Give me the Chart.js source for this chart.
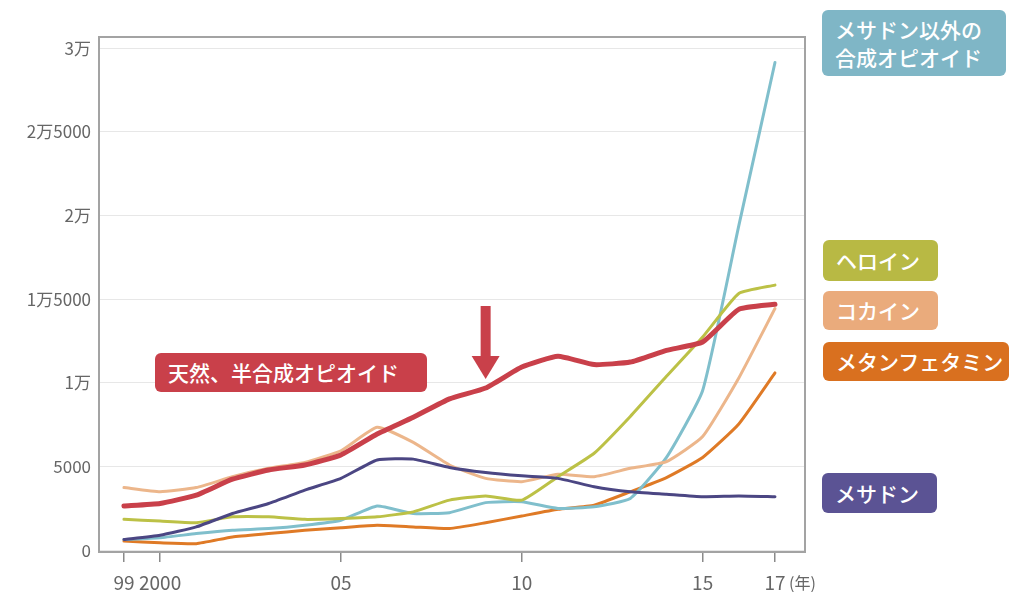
<!DOCTYPE html>
<html>
<head>
<meta charset="utf-8">
<script src="https://cdn.jsdelivr.net/npm/chart.js@4/dist/chart.umd.min.js"></script>
<style>
  body { margin: 0; background: #fff; }
  #wrap { position: relative; width: 1010px; height: 592px; font-family: "Noto Sans CJK JP", sans-serif; }
  .tag { position: absolute; color: #fff; font-size: 21px; font-weight: 500; line-height: 28px; border-radius: 6px; padding: 0 13px; box-sizing: border-box; white-space: nowrap; }
  #nen { position: absolute; left: 789px; top: 570px; font-size: 16px; color: #666; }
</style>
</head>
<body>
<div id="wrap">
  <canvas id="chart" width="1010" height="592"></canvas>
  <div class="tag" style="left:822px;top:10px;width:184px;height:66px;padding-top:5px;background:#7fb6c6;">メサドン以外の<br>合成オピオイド</div>
  <div class="tag" style="left:823px;top:240px;width:115px;height:41px;padding-top:6px;background:#b8b944;">ヘロイン</div>
  <div class="tag" style="left:823px;top:291px;width:115px;height:39px;padding-top:5px;background:#eaab7c;">コカイン</div>
  <div class="tag" style="left:823px;top:342px;width:186px;height:39px;padding-top:5px;background:#d9701f;">メタンフェタミン</div>
  <div class="tag" style="left:822px;top:473px;width:115px;height:40px;padding-top:6px;background:#5b5394;">メサドン</div>
  <div class="tag" style="left:155px;top:353px;width:272px;height:39px;padding-top:5px;background:#c9404a;">天然、半合成オピオイド</div>
  <div id="nen">(年)</div>
</div>
<script>
// years and overdose deaths
const years = [1999, 2000, 2001, 2002, 2003, 2004, 2005, 2006, 2007, 2008, 2009, 2010, 2011, 2012, 2013, 2014, 2015, 2016, 2017];
const natural =    [2650, 2800, 3300, 4250, 4800, 5100, 5700, 6950, 7950, 9050, 9700, 10950, 11600, 11100, 11250, 11950, 12450, 14400, 14700];
const cocaine =    [3750, 3500, 3750, 4400, 4900, 5250, 5950, 7350, 6450, 5100, 4300, 4100, 4550, 4400, 4900, 5300, 6800, 10300, 14450];
const methadone =  [650, 900, 1400, 2200, 2800, 3600, 4300, 5400, 5450, 4950, 4650, 4450, 4300, 3800, 3500, 3350, 3200, 3250, 3200];
const heroin =     [1850, 1750, 1650, 2000, 2000, 1850, 1900, 2000, 2300, 3000, 3250, 3000, 4400, 5800, 8000, 10400, 12750, 15350, 15850];
const synthetic =  [650, 750, 1000, 1200, 1300, 1500, 1800, 2650, 2200, 2250, 2850, 2900, 2500, 2600, 3100, 5550, 9550, 19400, 29150];
const meth =       [550, 450, 400, 800, 1000, 1200, 1350, 1500, 1400, 1300, 1650, 2050, 2450, 2700, 3500, 4350, 5550, 7550, 10600];

const xTicks = [1999, 2000, 2005, 2010, 2015, 2017];
const xTickLabels = ['99', '2000', '05', '10', '15', '17'];
const yTicks = [0, 5000, 10000, 15000, 20000, 25000, 30000];
const yTickLabels = ['0', '5000', '1万', '1万5000', '2万', '2万5000', '3万'];

function series(vals, color, width) {
  return {
    data: vals.map((v, i) => ({ x: years[i], y: v })),
    borderColor: color,
    borderWidth: width,
    pointRadius: 0,
    tension: 0.15,
    borderCapStyle: 'round',
    borderJoinStyle: 'round',
    fill: false
  };
}

// frame around plot area + red arrow pointing at 2009
const framePlugin = {
  id: 'frame',
  afterDraw(chart) {
    const { ctx, chartArea: a, scales } = chart;
    ctx.save();
    ctx.strokeStyle = '#a3a3a3';
    ctx.lineWidth = 2;
    ctx.strokeRect(a.left, a.top, a.right - a.left, a.bottom - a.top);
    const x = scales.x.getPixelForValue(2009);
    const tip = scales.y.getPixelForValue(natural[years.indexOf(2009)]) - 9;
    ctx.fillStyle = '#c9404a';
    ctx.fillRect(x - 5, tip - 73, 10, 52);
    ctx.beginPath();
    ctx.moveTo(x - 14, tip - 23);
    ctx.lineTo(x + 14, tip - 23);
    ctx.lineTo(x, tip);
    ctx.closePath();
    ctx.fill();
    ctx.restore();
  }
};

new Chart(document.getElementById('chart'), {
  type: 'line',
  data: {
    datasets: [
      series(natural, '#c9404a', 5),
      series(methadone, '#4b4683', 3),
      series(heroin, '#bcc146', 3),
      series(cocaine, '#ecb68b', 3),
      series(synthetic, '#80bfcc', 3),
      series(meth, '#df7a26', 3)
    ]
  },
  options: {
    responsive: false,
    animation: false,
    layout: { padding: { top: 37, right: 205, left: 0, bottom: 0 } },
    plugins: { legend: { display: false }, tooltip: { enabled: false } },
    scales: {
      x: {
        type: 'linear',
        min: 1998.31,
        max: 2017.83,
        afterBuildTicks: s => { s.ticks = xTicks.map(v => ({ value: v })); },
        afterFit: s => { s.height = 40; },
        border: { display: false },
        grid: { drawOnChartArea: false, drawTicks: true, tickLength: 10, color: '#8a8a8a', lineWidth: 1.5 },
        ticks: {
          padding: 9,
          maxRotation: 0,
          autoSkip: false,
          color: '#666',
          font: { family: '"Noto Sans CJK JP"', size: 19 },
          callback: v => xTickLabels[xTicks.indexOf(v)]
        }
      },
      y: {
        min: -100,
        max: 30675,
        afterBuildTicks: s => { s.ticks = yTicks.map(v => ({ value: v })); },
        afterFit: s => { s.width = 99; },
        border: { display: false },
        grid: { color: '#e7e7e7', lineWidth: 1, drawTicks: false },
        ticks: {
          padding: 8,
          color: '#666',
          font: { family: '"Noto Sans CJK JP"', size: 17 },
          callback: v => yTickLabels[yTicks.indexOf(v)]
        }
      }
    }
  },
  plugins: [framePlugin]
});
</script>
</body>
</html>
